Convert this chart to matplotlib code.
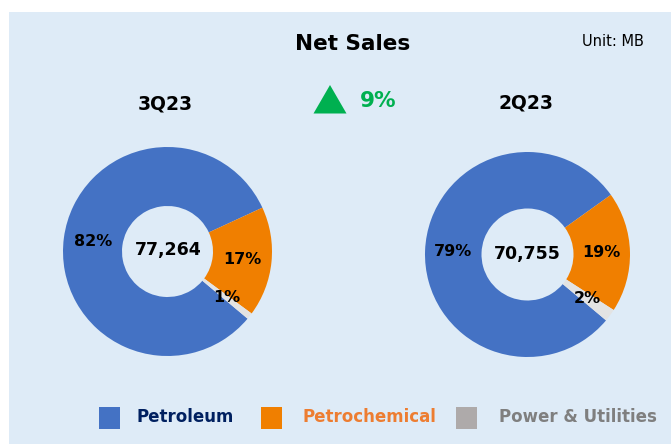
import matplotlib
matplotlib.use('Agg')
import matplotlib.pyplot as plt
from matplotlib.patches import Rectangle, Polygon

# data
segments = ['Petroleum', 'Petrochemical', 'Power & Utilities']
periods = ['3Q23', '2Q23']
totals = ['77,264', '70,755']
share_3q23 = [82, 17, 1]
share_2q23 = [79, 19, 2]
growth_label = '9%'

# colours
slice_colors = ['#4472c4', '#f07f00', '#e3e3e3']
swatch_colors = ['#4472c4', '#f07f00', '#aeaaaa']
legend_text_colors = ['#002060', '#ed7d31', '#7f7f7f']
bg_color = '#deebf7'
green = '#00b050'

W, H = 671, 444


def y_(y_img):
    # picture rows run downward, axes run upward
    return H - y_img


fig = plt.figure(figsize=(W / 100, H / 100), dpi=100)
fig.patch.set_facecolor('white')
ax = fig.add_axes([0, 0, 1, 1])

# light blue panel
ax.add_patch(Rectangle((9, 0), W - 9, H - 12, facecolor=bg_color, edgecolor='none', zorder=0))

# donuts
donuts = [
    (share_3q23, (167.5, y_(251.5)), 104.5, 45.5),
    (share_2q23, (527.5, y_(254.5)), 102.5, 46.0),
]
for vals, center, r_out, r_in in donuts:
    ax.pie(vals, colors=slice_colors, radius=r_out, center=center,
           startangle=-40, counterclock=False,
           wedgeprops=dict(width=r_out - r_in, linewidth=0),
           autopct=lambda p: f'{p:.0f}%',
           pctdistance=(r_out + r_in) / 2 / r_out,
           textprops=dict(fontsize=11.5, fontweight='bold', color='black'))

# totals in the holes
ax.text(168.5, y_(250.5), totals[0], ha='center', va='center', fontsize=12.5, fontweight='bold')
ax.text(527.5, y_(254), totals[1], ha='center', va='center', fontsize=12.5, fontweight='bold')

# titles
ax.text(352.5, y_(44), 'Net Sales', ha='center', va='center', fontsize=15.5, fontweight='bold')
ax.text(613, y_(41), 'Unit: MB', ha='center', va='center', fontsize=10.5)
ax.text(165, y_(103.5), periods[0], ha='center', va='center', fontsize=13.5, fontweight='bold')
ax.text(525.5, y_(102.5), periods[1], ha='center', va='center', fontsize=13.5, fontweight='bold')

# growth arrow
ax.add_patch(Polygon([(313.5, y_(113.5)), (346.5, y_(113.5)), (330, y_(85))],
                     closed=True, facecolor=green, edgecolor='none'))
ax.text(360, y_(100.5), growth_label, ha='left', va='center', fontsize=15.5,
        fontweight='bold', color=green)

# legend
swatch_x = [99, 261, 456]
text_x = [136.5, 302, 499]
for name, sx, tx, sc, tc in zip(segments, swatch_x, text_x, swatch_colors, legend_text_colors):
    ax.add_patch(Rectangle((sx, y_(429.5)), 20.5, 22.5, facecolor=sc, edgecolor='none'))
    ax.text(tx, y_(417), name, ha='left', va='center', fontsize=12,
            fontweight='bold', color=tc)

ax.set_xlim(0, W)
ax.set_ylim(0, H)
ax.set_aspect('equal')
ax.axis('off')

plt.savefig('out.png', dpi=100)
plt.close()
